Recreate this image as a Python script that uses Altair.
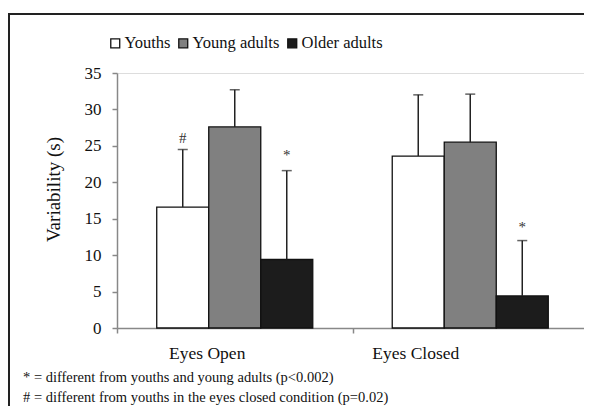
import altair as alt
import pandas as pd

# ---- data ----
conditions = ["Eyes Open", "Eyes Open", "Eyes Open", "Eyes Closed", "Eyes Closed", "Eyes Closed"]
groups = ["Youths", "Young adults", "Older adults", "Youths", "Young adults", "Older adults"]
means = [16.6, 27.6, 9.4, 23.6, 25.5, 4.4]
errors = [7.9, 5.1, 12.2, 8.4, 6.6, 7.6]
sig_marks = ["#", "", "*", "", "", "*"]
sig_pos = [26.1, None, 23.8, None, None, 13.9]

cond_order = ["Eyes Open", "Eyes Closed"]
group_order = ["Youths", "Young adults", "Older adults"]
group_colors = ["#ffffff", "#808080", "#1c1c1c"]
y_ticks = [0, 5, 10, 15, 20, 25, 30, 35]
footnotes = [
    "* = different from youths and young adults (p<0.002)",
    "# = different from youths in the eyes closed condition (p=0.02)",
]

df = pd.DataFrame({
    "Condition": conditions,
    "Group": groups,
    "mean": means,
    "err": errors,
    "sig": sig_marks,
    "sig_y": sig_pos,
})
df["upper"] = df["mean"] + df["err"]

FONT = "Liberation Serif"
W, H = 471, 255

x_axis = alt.Axis(
    title=None, labelAngle=0, tickBand="extent", tickSize=5,
    domainColor="#888888", domainWidth=1.5, tickColor="#888888", tickWidth=1.5,
    labelFont=FONT, labelFontSize=17.5, labelColor="#111111", labelPadding=11,
    labelOffset={"condition": {"test": "datum.value == 'Eyes Open'", "value": -28}, "value": -55},
)
y_axis = alt.Axis(values=y_ticks, title="Variability (s)", grid=False,
                  tickSize=5, labelPadding=11, domainColor="#888888",
                  domainWidth=1.5, tickColor="#888888", tickWidth=1.5,
                  labelFont=FONT, labelFontSize=17, labelColor="#111111",
                  titleFont=FONT, titleFontSize=19, titleFontWeight="normal",
                  titleColor="#111111", titlePadding=21, titleY=116)
y_scale = alt.Scale(domain=[0, 35], nice=False)

x_enc = alt.X("Condition:N", sort=cond_order,
              scale=alt.Scale(paddingInner=0, paddingOuter=0), axis=x_axis)
xo_enc = alt.XOffset("Group:N", sort=group_order,
                     scale=alt.Scale(paddingInner=0, paddingOuter=0.764))

base = alt.Chart(df)

legend = alt.Legend(orient="none", legendX=-10, legendY=-38,
                    direction="horizontal", title=None,
                    symbolType="square", symbolSize=80,
                    symbolStrokeColor="#111111", symbolStrokeWidth=1.3,
                    symbolOpacity=1,
                    labelFont=FONT, labelFontSize=16.5, labelColor="#111111",
                    labelOffset=1, columnPadding=4, padding=0)

bars = base.mark_bar(stroke="#111111", strokeWidth=1.3).encode(
    x=x_enc,
    xOffset=xo_enc,
    y=alt.Y("mean:Q", scale=y_scale, axis=y_axis),
    color=alt.Color("Group:N", sort=group_order,
                    scale=alt.Scale(domain=group_order, range=group_colors),
                    legend=legend),
)

err_rule = base.mark_rule(color="#222222", strokeWidth=1.5).encode(
    x=x_enc, xOffset=xo_enc, y=alt.Y("mean:Q", scale=y_scale, axis=y_axis), y2="upper:Q")
err_cap = base.mark_tick(color="#222222", thickness=1.5, size=10, orient="horizontal").encode(
    x=x_enc, xOffset=xo_enc, y=alt.Y("upper:Q", scale=y_scale, axis=y_axis))

sig = base.transform_filter("datum.sig != ''").mark_text(
    font=FONT, fontSize=15, color="#333333", baseline="middle").encode(
    x=x_enc, xOffset=xo_enc, y=alt.Y("sig_y:Q", scale=y_scale, axis=y_axis), text="sig:N")

# outer frame (top and left edges only; the rest is cropped in the reference)
one = pd.DataFrame({"k": [0]})
frame_v = alt.Chart(one).mark_rect(color="#222222", strokeWidth=0).encode(
    x=alt.value(-109), x2=alt.value(-107), y=alt.value(-60), y2=alt.value(333))
frame_h = alt.Chart(one).mark_rect(color="#222222", strokeWidth=0).encode(
    x=alt.value(-109), x2=alt.value(467), y=alt.value(-60), y2=alt.value(-58))

fn1 = alt.Chart(pd.DataFrame({"t": [footnotes[0]]})).mark_text(
    font=FONT, fontSize=14.5, align="left", baseline="alphabetic", color="#111111").encode(
    x=alt.value(-94), y=alt.value(309), text="t:N")
fn2 = alt.Chart(pd.DataFrame({"t": [footnotes[1]]})).mark_text(
    font=FONT, fontSize=14.5, align="left", baseline="alphabetic", color="#111111").encode(
    x=alt.value(-94), y=alt.value(329), text="t:N")

chart = alt.layer(bars, err_rule, err_cap, sig, frame_v, frame_h, fn1, fn2).properties(
    width=W, height=H,
    autosize=alt.AutoSizeParams(type="none"),
    padding={"left": 109, "top": 65, "right": -4, "bottom": 78},
).configure_view(stroke=None).configure(background="white")

chart.save("out.html", embed_options={"renderer": "svg", "actions": False})
